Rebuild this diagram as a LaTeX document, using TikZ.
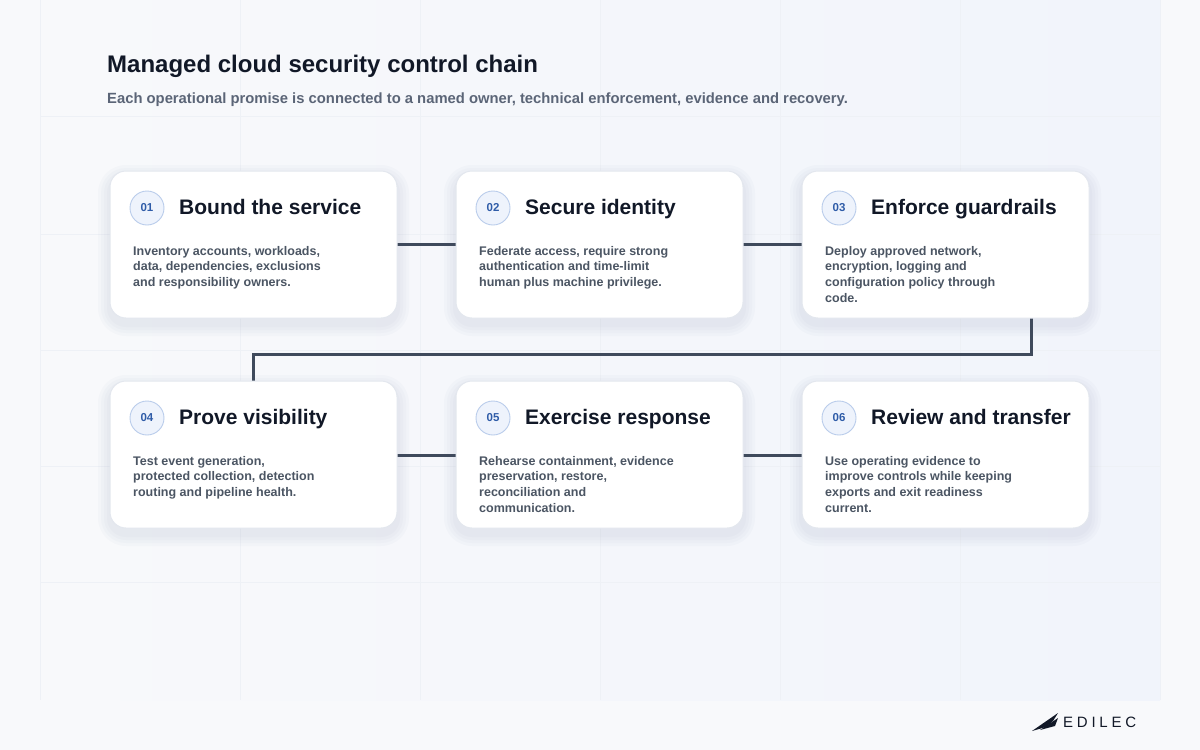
\documentclass[tikz,border=0pt]{standalone}
\usepackage{fontspec}
\setmainfont{Liberation Sans}
\definecolor{bg}{HTML}{F8F9FB}
\definecolor{panel}{HTML}{F1F4FB}
\definecolor{gridc}{HTML}{EEF1F6}
\definecolor{cardb}{HTML}{E3E7EE}
\definecolor{shad}{HTML}{8090B0}
\definecolor{ink}{HTML}{111827}
\definecolor{sub}{HTML}{5B6577}
\definecolor{body}{HTML}{4B5563}
\definecolor{conn}{HTML}{3F4A5C}
\definecolor{badge}{HTML}{EEF3FC}
\definecolor{badgeb}{HTML}{B9CCEB}
\definecolor{badget}{HTML}{2F5CA8}
\begin{document}
\begin{tikzpicture}[x=1pt,y=-1pt,
 card/.style={draw=cardb,line width=1pt,fill=white,rounded corners=16pt},
 num/.style={circle,draw=badgeb,fill=badge,line width=0.9pt,minimum size=34pt,inner sep=0pt,font=\fontsize{11.5}{11}\selectfont\bfseries,text=badget},
 ttl/.style={anchor=base west,font=\fontsize{21}{22}\selectfont\bfseries,text=ink,inner sep=0pt},
 txt/.style={anchor=north west,align=left,font=\fontsize{12.5}{15.6}\selectfont\bfseries,text=body,inner sep=0pt},
 link/.style={draw=conn,line width=3pt}]
\useasboundingbox (0,0) rectangle (1200,750);
\fill[bg] (0,0) rectangle (1200,750);
\shade[left color=bg,right color=panel] (40,0) rectangle (1160,700);
\foreach \x in {40,240,420,600,780,960,1160} \draw[gridc,line width=0.6pt] (\x,0)--(\x,700);
\foreach \y in {116,234,350,466,582} \draw[gridc,line width=0.6pt] (40,\y)--(1160,\y);
\node[anchor=base west,font=\fontsize{24}{25}\selectfont\bfseries,text=ink,inner sep=0pt] (title) at (107,72) {Managed cloud security control chain};
\node[anchor=base west,font=\fontsize{14.8}{16}\selectfont\bfseries,text=sub,inner sep=0pt] (subt) at (107,103) {Each operational promise is connected to a named owner, technical enforcement, evidence and recovery.};
\coordinate (c3b) at (1031,318);
\coordinate (k1) at (1031,354);
\coordinate (k2) at (253,354);
\coordinate (c4t) at (253,381);
\foreach \i/\x/\y in {1/110/171,2/456/171,3/802/171,4/110/381,5/456/381,6/802/381}{
 \foreach \r in {12,9,6,3}{
  \fill[shad,opacity=0.035,rounded corners=16pt+\r pt] (\x-\r,\y-\r+6) rectangle ++(287+2*\r,147+2*\r);
 }
}
\draw[link] (397,244)--(456,244);
\draw[link] (743,244)--(802,244);
\draw[link] (397,455)--(456,455);
\draw[link] (743,455)--(802,455);
\draw[link] (c3b)--(k1)--(k2)--(c4t);
\foreach \i/\x/\y/\t/\b in {
 1/110/171/Bound the service/{Inventory accounts, workloads,\\data, dependencies, exclusions\\and responsibility owners.},
 2/456/171/Secure identity/{Federate access, require strong\\authentication and time-limit\\human plus machine privilege.},
 3/802/171/Enforce guardrails/{Deploy approved network,\\encryption, logging and\\configuration policy through\\code.},
 4/110/381/Prove visibility/{Test event generation,\\protected collection, detection\\routing and pipeline health.},
 5/456/381/Exercise response/{Rehearse containment, evidence\\preservation, restore,\\reconciliation and\\communication.},
 6/802/381/Review and transfer/{Use operating evidence to\\improve controls while keeping\\exports and exit readiness\\current.}}{
 \draw[card] (\x,\y) rectangle ++(287,147);
 \node[num] (n\i) at (\x+37,\y+37) {0\i};
 \node[ttl] (t\i) at (\x+69,\y+43) {\t};
 \node[txt] (b\i) at (\x+23,\y+75) {\b};
}
\fill[ink] (1032,731) -- (1058,713) -- (1053,721) -- (1046,727) -- cycle;
\fill[ink] (1040,730) -- (1058,718) -- (1055,726) -- cycle;
\node[anchor=west,font=\fontsize{15}{15}\selectfont,text=ink,inner sep=0pt] (logo) at (1063,722) {\addfontfeatures{LetterSpace=25}EDILEC};
\end{tikzpicture}
\end{document}
